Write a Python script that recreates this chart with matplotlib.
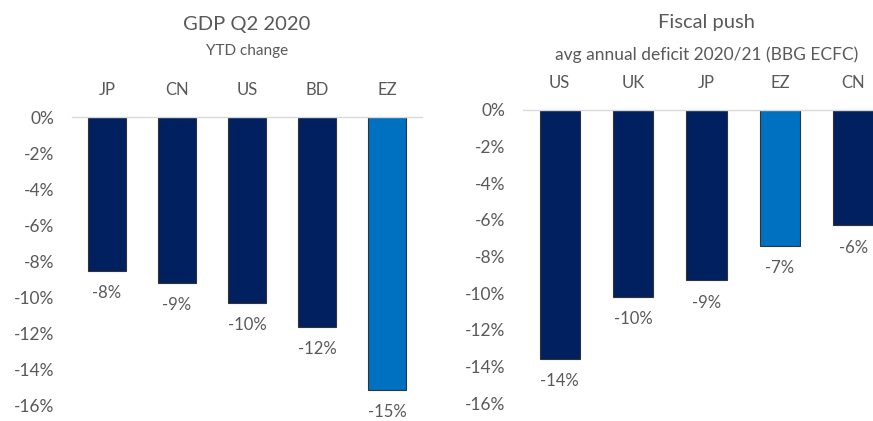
import matplotlib.pyplot as plt

plt.rcParams['font.family'] = ['Lato', 'DejaVu Sans']

GREY = '#595959'
NAVY = '#002060'
LIGHT = '#0070C0'

# left panel: GDP Q2 2020, YTD change (%)
gdp_countries = ['JP', 'CN', 'US', 'BD', 'EZ']
gdp_values = [-8.5, -9.2, -10.3, -11.6, -15.1]
gdp_labels = ['-8%', '-9%', '-10%', '-12%', '-15%']

# right panel: avg annual deficit 2020/21 (% of GDP)
fiscal_countries = ['US', 'UK', 'JP', 'EZ', 'CN']
fiscal_values = [-13.6, -10.2, -9.3, -7.4, -6.3]
fiscal_labels = ['-14%', '-10%', '-9%', '-7%', '-6%']

yticks = [0, -2, -4, -6, -8, -10, -12, -14, -16]


def draw_panel(ax, countries, values, labels, title, subtitle, title_y, sub_y, sub_size):
    colors = [LIGHT if c == 'EZ' else NAVY for c in countries]
    x = range(len(countries))
    ax.bar(x, values, width=0.55, color=colors, edgecolor='#333333', linewidth=0.8, zorder=2)
    for xi, v, lab in zip(x, values, labels):
        ax.annotate(lab, (xi, v), xytext=(0, -16), textcoords='offset points',
                    ha='center', va='center', fontsize=12, color=GREY,
                    annotation_clip=False)
        ax.text(xi, 1.092, countries[xi], transform=ax.get_xaxis_transform(),
                ha='center', va='center', fontsize=12, color=GREY)
    ax.set_xlim(-0.5, len(countries) - 0.5)
    ax.set_ylim(-16, 0)
    ax.set_yticks(yticks)
    ax.set_yticklabels([f'{t}%' for t in yticks], fontsize=12.5, color=GREY)
    ax.tick_params(axis='y', length=0, pad=13)
    ax.set_xticks([])
    for s in ['left', 'right', 'bottom']:
        ax.spines[s].set_visible(False)
    ax.spines['top'].set_color('#d9d9d9')
    ax.spines['top'].set_linewidth(1)
    ax.text(0.5, title_y, title, transform=ax.transAxes, ha='center', va='center',
            fontsize=14.5, color=GREY)
    ax.text(0.5, sub_y, subtitle, transform=ax.transAxes, ha='center', va='center',
            fontsize=sub_size, color=GREY)


fig = plt.figure(figsize=(8.73, 4.21), dpi=100)
ax1 = fig.add_axes([72 / 873, 15 / 421, 350 / 873, 289 / 421])
ax2 = fig.add_axes([523 / 873, 18 / 421, 367 / 873, 293 / 421])

draw_panel(ax1, gdp_countries, gdp_values, gdp_labels,
           'GDP Q2 2020', 'YTD change', 1.32, 1.227, 11)
draw_panel(ax2, fiscal_countries, fiscal_values, fiscal_labels,
           'Fiscal push', 'avg annual deficit 2020/21 (BBG ECFC)', 1.30, 1.19, 12.5)

fig.savefig('out.png', dpi=100)
